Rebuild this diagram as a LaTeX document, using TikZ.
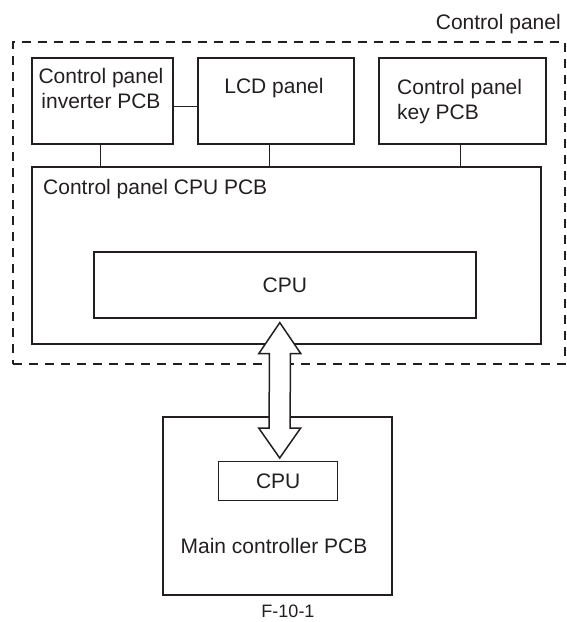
\documentclass[tikz,border=0pt]{standalone}
\usepackage{fontspec}
\setmainfont{Liberation Sans}
\usetikzlibrary{calc}
\definecolor{ink}{RGB}{35,31,32}
\begin{document}
\begin{tikzpicture}[x=1pt,y=-1pt,
  box/.style={draw=ink,line width=1.6pt,rectangle,inner sep=0pt,anchor=north west},
  wire/.style={draw=ink,line width=1.2pt},
  txt/.style={inner sep=0pt,text=ink,font=\fontsize{21}{25}\selectfont},
  small/.style={inner sep=0pt,text=ink,font=\fontsize{18}{22}\selectfont}]
\path[use as bounding box] (0,0) rectangle (566,622);
% dashed control panel frame
\node[draw=ink,line width=1.8pt,dash pattern=on 9pt off 7pt,rectangle,inner sep=0pt,anchor=north west,
  minimum width=552pt,minimum height=322pt] (frame) at (12,41) {};
\node[txt,anchor=base east] (framelbl) at (561,29) {Control panel};
% top boxes
\node[box,minimum width=141pt,minimum height=86pt] (inv) at (31,57) {};
\node[box,minimum width=156pt,minimum height=86pt] (lcd) at (197,57) {};
\node[box,minimum width=167pt,minimum height=86pt] (key) at (378,57) {};
\node[txt,anchor=north,align=center] (invt) at (101,68) {Control panel\\inverter PCB};
\node[txt,anchor=base] (lcdt) at (274,93) {LCD panel};
\node[txt,anchor=north west,align=left] (keyt) at (397,79) {Control panel\\key PCB};
% CPU PCB
\node[box,minimum width=509pt,minimum height=177pt] (cpupcb) at (31,166) {};
\node[txt,anchor=base west] (cpupcbt) at (43,194) {Control panel CPU PCB};
\node[box,minimum width=382pt,minimum height=66pt] (cpu1) at (93,251) {};
\node[txt] (cpu1t) at (cpu1.center) {CPU};
% connectors
\draw[wire] ([yshift=-6pt]inv.east) -- ([yshift=-6pt]lcd.west);
\draw[wire] ([xshift=-2pt]inv.south) -- ([xshift=-2pt]inv.south |- cpupcb.north);
\draw[wire] ([xshift=-6pt]lcd.south) -- ([xshift=-6pt]lcd.south |- cpupcb.north);
\draw[wire] ([xshift=-1.5pt]key.south) -- ([xshift=-1.5pt]key.south |- cpupcb.north);
% main controller
\node[box,minimum width=229pt,minimum height=178pt] (main) at (162,416) {};
\node[box,line width=1.4pt,minimum width=119pt,minimum height=39pt] (cpu2) at (218,461) {};
\node[txt] (cpu2t) at (cpu2.center) {CPU};
\node[txt,anchor=base] (maint) at (274,553) {Main controller PCB};
\node[small,anchor=base] (fig) at (288,617) {F-10-1};
% double arrow
\coordinate (atip) at ([xshift=-5pt,yshift=-4pt]cpu1.south);
\coordinate (btip) at ([xshift=1.5pt,yshift=3pt]cpu2.north);
\draw[draw=ink,fill=white,line width=1.5pt,line join=miter]
  (atip) -- ($(atip)+(21,31)$) -- ($(atip)+(10.5,31)$) -- ($(btip)+(10.5,-30)$)
  -- ($(btip)+(21,-30)$) -- (btip) -- ($(btip)+(-21,-30)$) -- ($(btip)+(-10.5,-30)$)
  -- ($(atip)+(-10.5,31)$) -- ($(atip)+(-21,31)$) -- cycle;
\end{tikzpicture}
\end{document}
